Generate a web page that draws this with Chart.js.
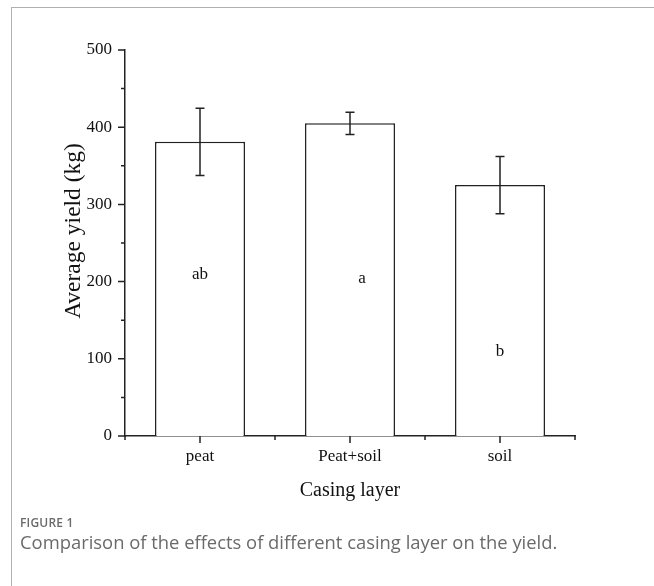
<!DOCTYPE html>
<html>
<head>
<meta charset="utf-8">
<script src="https://cdn.jsdelivr.net/npm/chart.js@4.4.1/dist/chart.umd.min.js"></script>
<style>
  html, body { margin: 0; padding: 0; background: #fff; }
  body { width: 654px; height: 586px; position: relative; overflow: hidden; }
  #frame {
    position: absolute; left: 11px; top: 7px; right: 0; bottom: 0;
    border-left: 1.5px solid #b0b0b0; border-top: 1.5px solid #b0b0b0;
  }
  #chart { position: absolute; left: 0; top: 0; }
  .fig-label {
    position: absolute; left: 20px; top: 514px;
    font: 600 12px "Open Sans", sans-serif; color: #6a6a6a; letter-spacing: 0.2px;
  }
  .fig-caption {
    position: absolute; left: 20px; top: 529px;
    font: 400 18.4px "Open Sans", sans-serif; color: #6a6a6a;
  }
</style>
</head>
<body>
<div id="frame"></div>
<canvas id="chart" width="654" height="586"></canvas>
<div class="fig-label">FIGURE 1</div>
<div class="fig-caption">Comparison of the effects of different casing layer on the yield.</div>

<script>
// Average yield per casing layer, with error bars and significance letters
const categories = ["peat", "Peat+soil", "soil"];
const yieldMeans = [381, 405, 325];
const yieldErrors = [43.5, 14.5, 37];
const groupLetters = ["ab", "a", "b"];
const letterLevels = [209, 204, 110];
const letterShift = [0, 0.08, 0];   // in category units
const yTicks = [0, 100, 200, 300, 400, 500];
const yTitle = "Average yield (kg)";

const serif = "'Liberation Serif', 'Times New Roman', serif";
const ink = "#222";

// error bars, axis tick marks, group letters and the y title
const extras = {
  id: "extras",
  afterDatasetsDraw(chart) {
    const ctx = chart.ctx;
    const x = chart.scales.x;
    const y = chart.scales.y;
    const area = chart.chartArea;
    ctx.save();
    ctx.strokeStyle = ink;
    ctx.lineWidth = 1.5;

    // error bars
    yieldMeans.forEach((m, i) => {
      const cx = x.getPixelForValue(i);
      const top = y.getPixelForValue(m + yieldErrors[i]);
      const bot = y.getPixelForValue(m - yieldErrors[i]);
      ctx.beginPath();
      ctx.moveTo(cx, top); ctx.lineTo(cx, bot);
      ctx.moveTo(cx - 4.5, top); ctx.lineTo(cx + 4.5, top);
      ctx.moveTo(cx - 4.5, bot); ctx.lineTo(cx + 4.5, bot);
      ctx.stroke();
    });

    // y ticks: major at labels, minor halfway between
    const step = yTicks[1] - yTicks[0];
    ctx.beginPath();
    yTicks.forEach((v, i) => {
      const py = y.getPixelForValue(v);
      ctx.moveTo(area.left - 7, py); ctx.lineTo(area.left, py);
      if (i < yTicks.length - 1) {
        const pm = y.getPixelForValue(v + step / 2);
        ctx.moveTo(area.left - 4, pm); ctx.lineTo(area.left, pm);
      }
    });

    // x ticks: major at category centres, minor at boundaries
    const catW = x.getPixelForValue(1) - x.getPixelForValue(0);
    categories.forEach((c, i) => {
      const px = x.getPixelForValue(i);
      ctx.moveTo(px, area.bottom); ctx.lineTo(px, area.bottom + 7);
      ctx.moveTo(px - catW / 2, area.bottom); ctx.lineTo(px - catW / 2, area.bottom + 4);
      if (i === categories.length - 1) {
        ctx.moveTo(px + catW / 2, area.bottom); ctx.lineTo(px + catW / 2, area.bottom + 4);
      }
    });
    ctx.stroke();

    ctx.fillStyle = "#111";
    ctx.textAlign = "center";
    ctx.textBaseline = "middle";

    // significance letters
    ctx.font = "17px " + serif;
    groupLetters.forEach((t, i) => {
      const px = x.getPixelForValue(i) + letterShift[i] * catW;
      ctx.fillText(t, px, y.getPixelForValue(letterLevels[i]));
    });

    // y axis title, sits a little above the middle of the axis
    ctx.font = "23.5px " + serif;
    ctx.translate(74, (area.top + area.bottom) / 2 - 12);
    ctx.rotate(-Math.PI / 2);
    ctx.fillText(yTitle, 0, 0);
    ctx.restore();
  }
};

new Chart(document.getElementById("chart"), {
  type: "bar",
  data: {
    labels: categories,
    datasets: [{
      data: yieldMeans,
      backgroundColor: "#fff",
      borderColor: ink,
      borderWidth: 1.5,
      barPercentage: 0.6,
      categoryPercentage: 1.0,
    }],
  },
  options: {
    responsive: false,
    animation: false,
    events: [],
    layout: { padding: { top: 50, right: 79, left: 0, bottom: 0 } },
    plugins: { legend: { display: false }, tooltip: { enabled: false } },
    scales: {
      x: {
        grid: { display: false, drawTicks: false },
        border: { display: true, color: ink, width: 1.5 },
        ticks: { color: "#111", font: { family: serif, size: 17 }, padding: 10, maxRotation: 0 },
        title: {
          display: true, text: "Casing layer", color: "#111",
          font: { family: serif, size: 20 }, padding: { top: 0, bottom: 83 },
        },
        afterFit(scale) { scale.height = 150; },
      },
      y: {
        min: 0,
        max: 500,
        grid: { display: false, drawTicks: false },
        border: { display: true, color: ink, width: 1.5 },
        ticks: {
          stepSize: 100, padding: 13, color: "#111",
          font: { family: serif, size: 17 },
        },
        afterFit(scale) { scale.width = 125; },
      },
    },
  },
  plugins: [extras],
});
</script>
</body>
</html>
